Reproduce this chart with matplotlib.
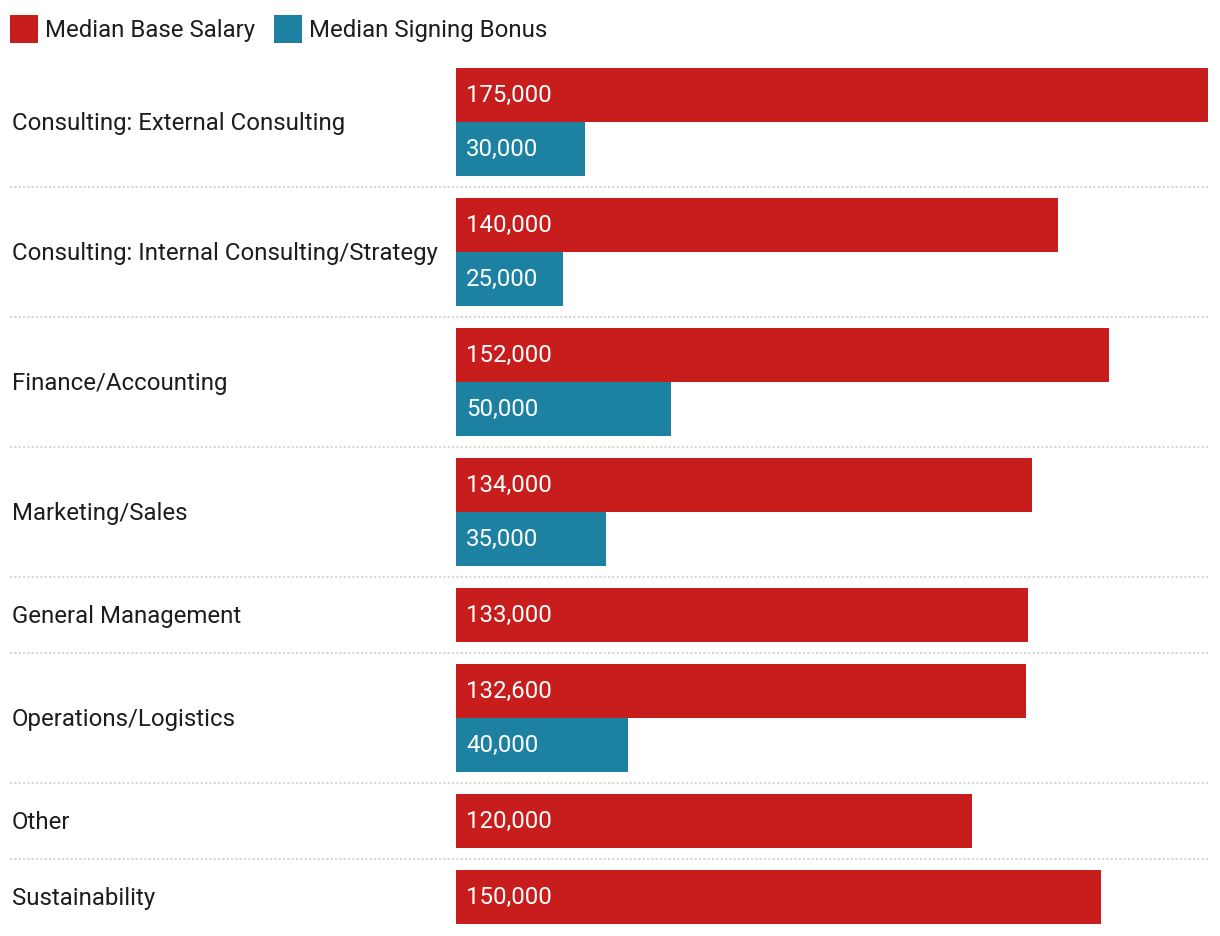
import matplotlib
matplotlib.use("Agg")
import matplotlib.pyplot as plt
from matplotlib.patches import Rectangle
from matplotlib.lines import Line2D
from matplotlib.transforms import blended_transform_factory

categories = [
    "Consulting: External Consulting",
    "Consulting: Internal Consulting/Strategy",
    "Finance/Accounting",
    "Marketing/Sales",
    "General Management",
    "Operations/Logistics",
    "Other",
    "Sustainability",
]
base_salary = [175000, 140000, 152000, 134000, 133000, 132600, 120000, 150000]
signing_bonus = [30000, 25000, 50000, 35000, None, 40000, None, None]
series_names = ["Median Base Salary", "Median Signing Bonus"]

RED = "#c71e1d"
BLUE = "#1d81a2"
TEXT = "#1d1d1d"
FS = 17.3
BL = 8.3  # baseline offset (px) below the visual centre

plt.rcParams["font.family"] = ["Roboto", "DejaVu Sans"]

W, H = 1220, 936
fig = plt.figure(figsize=(W / 100, H / 100), dpi=100)
ax = fig.add_axes([456 / W, 0, 752 / W, 1])
ax.set_xlim(0, 175000)
ax.set_ylim(H, 0)
ax.axis("off")

bt = blended_transform_factory(fig.transFigure, ax.transData)

top = 68
bar_h = 54
gap = 22
seps = []
for i, cat in enumerate(categories):
    y0 = top
    ax.barh(y0 + bar_h / 2, base_salary[i], height=bar_h, color=RED, linewidth=0)
    ax.annotate(f"{base_salary[i]:,}", xy=(0, y0 + bar_h / 2 - 1.3 + BL), xytext=(7.2, 0),
                textcoords="offset points", va="baseline", ha="left",
                color="white", fontsize=FS)
    n = 1
    if signing_bonus[i] is not None:
        y1 = y0 + bar_h
        ax.barh(y1 + bar_h / 2, signing_bonus[i], height=bar_h, color=BLUE, linewidth=0)
        ax.annotate(f"{signing_bonus[i]:,}", xy=(0, y1 + bar_h / 2 - 1.3 + BL), xytext=(7.2, 0),
                    textcoords="offset points", va="baseline", ha="left",
                    color="white", fontsize=FS)
        n = 2
    gh = n * bar_h
    ax.text(12 / W, y0 + gh / 2 + BL, cat, transform=bt, va="baseline", ha="left",
            color=TEXT, fontsize=FS)
    top = y0 + gh + gap
    if i < len(categories) - 1:
        seps.append(y0 + gh + gap / 2 - 0.5)

for s in seps:
    fig.add_artist(Line2D([10 / W, 1208 / W], [s, s], transform=bt, color="#d4d4d4",
                          linewidth=1.3, linestyle=(0, (1.2, 1.2))))

# legend
legend_items = [(10, 45, RED, series_names[0]), (274, 309, BLUE, series_names[1])]
for sx, tx, col, name in legend_items:
    fig.add_artist(Rectangle((sx / W, 1 - 43 / H), 28 / W, 28 / H,
                             transform=fig.transFigure, color=col, linewidth=0))
    fig.text(tx / W, 1 - 37 / H, name, va="baseline", ha="left",
             color=TEXT, fontsize=FS)

fig.savefig("out.png", dpi=100)
